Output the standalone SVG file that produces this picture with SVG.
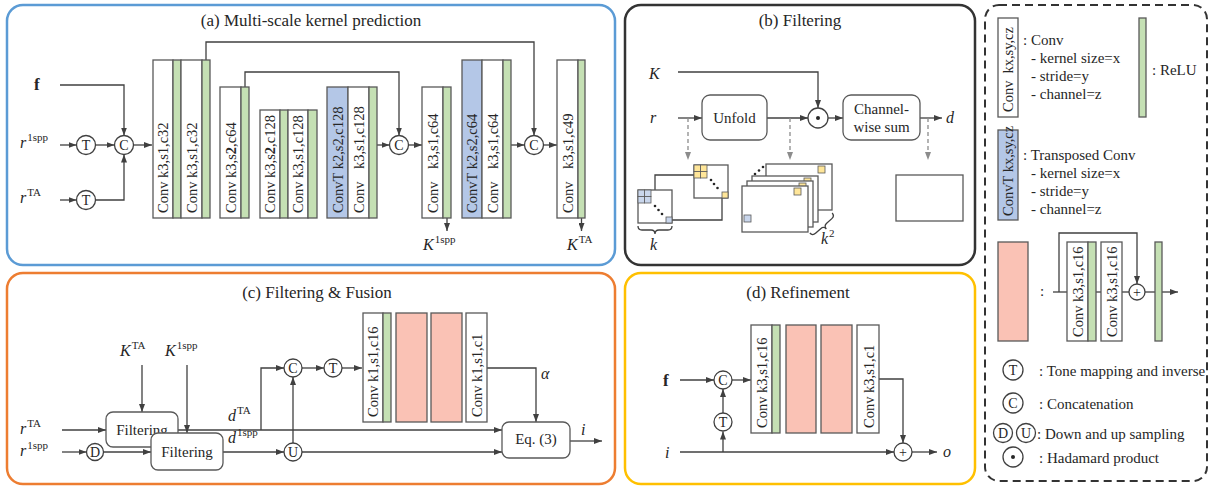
<svg xmlns="http://www.w3.org/2000/svg" width="1211" height="487" viewBox="0 0 1211 487">
<defs>
<marker id="ah" viewBox="0 0 8 6" refX="8" refY="3" markerWidth="8" markerHeight="6" markerUnits="userSpaceOnUse" orient="auto"><path d="M0,0L8,3L0,6z" fill="#404040"/></marker>
<marker id="ahg" viewBox="0 0 8 6" refX="8" refY="3" markerWidth="8" markerHeight="6" markerUnits="userSpaceOnUse" orient="auto"><path d="M0,0L8,3L0,6z" fill="#8c8c8c"/></marker>
<style>
.wb{fill:#fff;stroke:#595959;stroke-width:1.3}
.gr{fill:#C5E0B4;stroke:#595959;stroke-width:1.3}
.bl{fill:#B4C7E7;stroke:#595959;stroke-width:1.3}
.pk{fill:#FAC2B5;stroke:#595959;stroke-width:1.3}
.yc{fill:#FFE699;stroke:#595959;stroke-width:0.8}
.bc{fill:#C9D6EC;stroke:#595959;stroke-width:0.8}
.ln{fill:none;stroke:#404040;stroke-width:1.3}
.la{fill:none;stroke:#404040;stroke-width:1.3;marker-end:url(#ah)}
.dg{fill:none;stroke:#8c8c8c;stroke-width:1.3;stroke-dasharray:4,3;marker-end:url(#ahg)}
.ci{fill:#fff;stroke:#404040;stroke-width:1.3}
.tl{font-family:"Liberation Serif","Times New Roman",serif;font-size:15px;fill:#262626}
.ttl{font-family:"Liberation Serif","Times New Roman",serif;font-size:17px;fill:#262626;text-anchor:middle}
.cl{font-family:"Liberation Serif","Times New Roman",serif;font-size:14px;fill:#262626;text-anchor:middle}
.m{font-family:"Liberation Serif","Times New Roman",serif;font-size:16px;font-style:italic;fill:#262626}
.sp{font-style:normal;font-size:11px}
.bf{font-family:"Liberation Serif","Times New Roman",serif;font-size:17px;font-weight:bold;fill:#262626}
.rot{font-family:"Liberation Serif","Times New Roman",serif;font-size:14.5px;fill:#262626}
</style>
</defs>

<!-- panel borders -->
<g id="panel-a"><rect x="7" y="5" width="608" height="260" rx="16" fill="none" stroke="#5B9BD5" stroke-width="2.5"/><text class="ttl" x="311" y="26">(a) Multi-scale kernel prediction</text></g>
<g id="panel-b"><rect x="625" y="5" width="350" height="260" rx="16" fill="none" stroke="#333" stroke-width="2.5"/><text class="ttl" x="800" y="26">(b) Filtering</text></g>
<g id="panel-c"><rect x="7" y="273" width="608" height="211" rx="16" fill="none" stroke="#ED7D31" stroke-width="2.5"/><text class="ttl" x="317" y="298">(c) Filtering &amp; Fusion</text></g>
<g id="panel-d"><rect x="625" y="273" width="350" height="211" rx="16" fill="none" stroke="#FFC000" stroke-width="2.5"/><text class="ttl" x="798" y="298">(d) Refinement</text></g>
<g id="legend"><rect x="985" y="5" width="222" height="476" rx="14" fill="none" stroke="#333" stroke-width="2" stroke-dasharray="8,5"/></g>

<!-- connectors -->
<g id="connectors">
<!-- (a) -->
<path class="la" d="M60,85H124V135.5"/>
<path class="la" d="M60,145H76.5"/>
<path class="la" d="M95.5,145H114.5"/>
<path class="la" d="M60,200H76.5"/>
<path class="la" d="M95.5,200H124V154.5"/>
<path class="la" d="M133.5,145H152"/>
<path class="la" d="M206,60V42H534V135.5"/>
<path class="la" d="M245,87V72H399V135.5"/>
<path class="la" d="M377,145H389.5"/>
<path class="la" d="M408.5,145H422"/>
<path class="la" d="M447,218V231"/>
<path class="la" d="M511,145H524.5"/>
<path class="la" d="M543.5,145H557"/>
<path class="la" d="M581.5,218V231"/>
<!-- (b) -->
<path class="la" d="M678,72H818V108"/>
<path class="la" d="M678,118H702"/>
<path class="la" d="M767,118H808"/>
<path class="la" d="M828,118H843"/>
<path class="la" d="M920,118H942"/>
<path class="dg" d="M688,118V160"/>
<path class="dg" d="M790,118V160"/>
<path class="dg" d="M928,118V160"/>
<!-- (c) -->
<path class="la" d="M142,365V412"/>
<path class="la" d="M62,430H106"/>
<path class="la" d="M62,452H86.5"/>
<path class="la" d="M103.5,452H151"/>
<path class="la" d="M178,430H502"/>
<path class="la" d="M261,430V368H284"/>
<path class="la" d="M223,452H284"/>
<path class="la" d="M302,452H502"/>
<path class="la" d="M293,443V377"/>
<path class="la" d="M302,368H324"/>
<path class="la" d="M342,368H362"/>
<path class="la" d="M487,368H536V422"/>
<path class="la" d="M570,441H602"/>
<path class="la" d="M187,365V433"/>
<!-- (d) -->
<path class="la" d="M680,380H714"/>
<path class="la" d="M732,380H751"/>
<path class="la" d="M680,452H894"/>
<path class="la" d="M723,452V431.5"/>
<path class="la" d="M723,413V389"/>
<path class="la" d="M879,379H903V443"/>
<path class="la" d="M912,452H937"/>
<!-- legend res block -->
<path class="ln" d="M1053,292H1067"/>
<path class="la" d="M1059,292V233H1137V284"/>
<path class="ln" d="M1096,292H1101"/>
<path class="ln" d="M1122,292H1129"/>
<path class="ln" d="M1145,292H1155"/>
<path class="la" d="M1162,292H1178"/>
</g>

<!-- (a) labels -->
<g id="a-inputs">
<text class="bf" x="34" y="90">f</text>
<text class="m" x="20" y="148">r<tspan class="sp" dx="1" dy="-7">1spp</tspan></text>
<text class="m" x="20" y="203">r<tspan class="sp" dx="1" dy="-7">TA</tspan></text>
<text class="m" x="423" y="250">K<tspan class="sp" dx="1" dy="-7">1spp</tspan></text>
<text class="m" x="567" y="250">K<tspan class="sp" dx="1" dy="-7">TA</tspan></text>
</g>
<g id="a-circles">
<circle class="ci" cx="86" cy="145" r="9.5"/><text class="cl" x="86" y="150">T</text>
<circle class="ci" cx="86" cy="200" r="9.5"/><text class="cl" x="86" y="205">T</text>
<circle class="ci" cx="124" cy="145" r="9.5"/><text class="cl" x="124" y="150">C</text>
<circle class="ci" cx="399" cy="145" r="9.5"/><text class="cl" x="399" y="150">C</text>
<circle class="ci" cx="534" cy="145" r="9.5"/><text class="cl" x="534" y="150">C</text>
</g>
<g id="a-block1">
<rect class="wb" x="153" y="60" width="20" height="158"/><rect class="gr" x="173" y="60" width="8" height="158"/>
<rect class="wb" x="181" y="60" width="21" height="158"/><rect class="gr" x="202" y="60" width="8" height="158"/>
<text class="rot" transform="translate(168,213) rotate(-90)">Conv k3,s1,c32</text>
<text class="rot" transform="translate(197,213) rotate(-90)">Conv k3,s1,c32</text>
</g>
<g id="a-block2">
<rect class="wb" x="220" y="87" width="21" height="131"/><rect class="gr" x="241" y="87" width="8" height="131"/>
<text class="rot" transform="translate(236,213) rotate(-90)">Conv k3,s<tspan font-weight="bold">2</tspan>,c64</text>
</g>
<g id="a-block3">
<rect class="wb" x="260" y="110" width="20" height="108"/><rect class="gr" x="280" y="110" width="8" height="108"/>
<rect class="wb" x="288" y="110" width="20" height="108"/><rect class="gr" x="308" y="110" width="9" height="108"/>
<text class="rot" transform="translate(275,213) rotate(-90)">Conv k3,s<tspan font-weight="bold">2</tspan>,c128</text>
<text class="rot" transform="translate(303,213) rotate(-90)">Conv k3,s1,c128</text>
</g>
<g id="a-block4">
<rect class="bl" x="327" y="87" width="21" height="131"/><rect class="wb" x="348" y="87" width="21" height="131"/><rect class="gr" x="369" y="87" width="8" height="131"/>
<text class="rot" transform="translate(343,213) rotate(-90)">ConvT k2,s2,c128</text>
<text class="rot" transform="translate(364,213) rotate(-90)">Conv<tspan x="44">k3,s1,c128</tspan></text>
</g>
<g id="a-block5">
<rect class="wb" x="422" y="87" width="21" height="131"/><rect class="gr" x="443" y="87" width="8" height="131"/>
<text class="rot" transform="translate(438,213) rotate(-90)">Conv<tspan x="44">k3,s1,c64</tspan></text>
</g>
<g id="a-block6">
<rect class="bl" x="462" y="60" width="20" height="158"/><rect class="wb" x="482" y="60" width="21" height="158"/><rect class="gr" x="503" y="60" width="8" height="158"/>
<text class="rot" transform="translate(477,213) rotate(-90)">ConvT k2,s2,c64</text>
<text class="rot" transform="translate(498,213) rotate(-90)">Conv<tspan x="44">k3,s1,c64</tspan></text>
</g>
<g id="a-block7">
<rect class="wb" x="557" y="60" width="21" height="158"/><rect class="gr" x="578" y="60" width="7" height="158"/>
<text class="rot" transform="translate(573,213) rotate(-90)">Conv<tspan x="44">k3,s1,c49</tspan></text>
</g>

<!-- (b) -->
<g id="b-labels">
<text class="m" x="649" y="79">K</text>
<text class="m" x="650" y="123">r</text>
<text class="m" x="946" y="123">d</text>
</g>
<g id="b-unfold"><rect class="wb" x="702" y="95" width="65" height="45" rx="8"/><text class="tl" x="734.5" y="123" text-anchor="middle">Unfold</text></g>
<g id="b-hadamard"><circle class="ci" cx="818" cy="118" r="10"/><circle cx="818" cy="118" r="2" fill="#262626"/></g>
<g id="b-sum"><rect class="wb" x="843" y="95" width="77" height="45" rx="8"/><text class="tl" x="881.5" y="114" text-anchor="middle">Channel-</text><text class="tl" x="881.5" y="132" text-anchor="middle">wise sum</text></g>
<g id="b-icon1">
<path class="ln" d="M655,190V175H694M672,220H722V198"/>
<rect class="wb" x="694" y="165" width="34" height="33"/>
<rect class="yc" x="694" y="165" width="6.5" height="6.5"/><rect class="yc" x="700.5" y="165" width="6.5" height="6.5"/><rect class="yc" x="694" y="171.5" width="6.5" height="6.5"/><rect class="yc" x="700.5" y="171.5" width="6.5" height="6.5"/>
<rect class="yc" x="722" y="192" width="6" height="6"/>
<circle cx="711" cy="180" r="1.3" fill="#262626"/><circle cx="714" cy="184" r="1.3" fill="#262626"/><circle cx="717.5" cy="188" r="1.3" fill="#262626"/>
<rect class="wb" x="638" y="190" width="34" height="33"/>
<rect class="bc" x="638" y="190" width="6.5" height="6.5"/><rect class="bc" x="644.5" y="190" width="6.5" height="6.5"/><rect class="bc" x="638" y="196.5" width="6.5" height="6.5"/><rect class="bc" x="644.5" y="196.5" width="6.5" height="6.5"/>
<rect class="bc" x="666" y="217" width="6" height="6"/>
<circle cx="655" cy="206" r="1.3" fill="#262626"/><circle cx="658.5" cy="210" r="1.3" fill="#262626"/><circle cx="662" cy="214" r="1.3" fill="#262626"/>
<path class="ln" d="M638,226q0,4 4,4H651q4,0 4,4q0,-4 4,-4H668q4,0 4,-4" stroke-width="1"/>
<text class="m" x="650" y="250">k</text>
</g>
<g id="b-icon2">
<rect class="wb" x="766" y="164" width="66" height="46"/><rect class="yc" x="818" y="166" width="7" height="7"/>
<circle cx="755" cy="174" r="1.3" fill="#262626"/><circle cx="759" cy="170.5" r="1.3" fill="#262626"/><circle cx="763" cy="167" r="1.3" fill="#262626"/>
<rect class="wb" x="752" y="176" width="66" height="46"/><rect class="yc" x="804" y="178" width="7" height="7"/>
<rect class="wb" x="747" y="181" width="66" height="46"/><rect class="yc" x="799" y="183" width="7" height="7"/>
<rect class="wb" x="742" y="186" width="66" height="46"/><rect class="yc" x="794" y="188" width="7" height="7"/>
<rect class="bc" x="744" y="215" width="7" height="7"/>
<path class="ln" stroke-width="1" transform="translate(821,223) rotate(-42)" d="M-15,0q0,4 4,4H-4q4,0 4,4q0,-4 4,-4H11q4,0 4,-4"/>
<text class="m" x="821" y="244">k<tspan class="sp" dx="1" dy="-7">2</tspan></text>
</g>
<g id="b-icon3"><rect class="wb" x="896" y="175" width="67" height="46"/></g>

<!-- (c) -->
<g id="c-labels">
<text class="m" x="120" y="356">K<tspan class="sp" dx="1" dy="-7">TA</tspan></text>
<text class="m" x="165" y="356">K<tspan class="sp" dx="1" dy="-7">1spp</tspan></text>
<text class="m" x="20" y="434">r<tspan class="sp" dx="1" dy="-7">TA</tspan></text>
<text class="m" x="20" y="456">r<tspan class="sp" dx="1" dy="-7">1spp</tspan></text>
<text class="m" x="228" y="421">d<tspan class="sp" dx="1" dy="-7">TA</tspan></text>
<text class="m" x="228" y="443">d<tspan class="sp" dx="1" dy="-7">1spp</tspan></text>
<text class="m" x="541" y="379">α</text>
<text class="m" x="581" y="435">i</text>
</g>
<g id="c-filter1"><rect class="wb" x="106" y="412" width="72" height="35" rx="7"/><text class="tl" x="142" y="435" text-anchor="middle">Filtering</text></g>
<g id="c-filter2"><rect class="wb" x="151" y="433" width="72" height="37" rx="7"/><text class="tl" x="187" y="457" text-anchor="middle">Filtering</text></g>
<g id="c-circles">
<circle class="ci" cx="95" cy="452" r="8.5"/><text class="cl" x="95" y="457">D</text>
<circle class="ci" cx="293" cy="368" r="9"/><text class="cl" x="293" y="373">C</text>
<circle class="ci" cx="293" cy="452" r="9"/><text class="cl" x="293" y="457">U</text>
<circle class="ci" cx="333" cy="368" r="9"/><text class="cl" x="333" y="373">T</text>
</g>
<g id="c-blocks">
<rect class="wb" x="363" y="313" width="20" height="109"/><rect class="gr" x="383" y="313" width="8" height="109"/>
<rect class="pk" x="396" y="313" width="31" height="109"/><rect class="pk" x="431" y="313" width="31" height="109"/>
<rect class="wb" x="466" y="313" width="21" height="109"/>
<text class="rot" transform="translate(378,417) rotate(-90)">Conv k1,s1,c16</text>
<text class="rot" transform="translate(482,417) rotate(-90)">Conv k1,s1,c1</text>
</g>
<g id="c-eq"><rect class="wb" x="502" y="422" width="68" height="36" rx="7"/><text class="tl" x="536" y="444" text-anchor="middle">Eq. (3)</text></g>

<!-- (d) -->
<g id="d-labels">
<text class="bf" x="663" y="386">f</text>
<text class="m" x="665" y="458">i</text>
<text class="m" x="943" y="457">o</text>
</g>
<g id="d-circles">
<circle class="ci" cx="723" cy="380" r="9"/><text class="cl" x="723" y="385">C</text>
<circle class="ci" cx="723" cy="422" r="9"/><text class="cl" x="723" y="427">T</text>
<circle class="ci" cx="903" cy="452" r="9"/><text class="cl" x="903" y="457">+</text>
</g>
<g id="d-blocks">
<rect class="wb" x="751" y="325" width="21" height="108"/><rect class="gr" x="772" y="325" width="8" height="108"/>
<rect class="pk" x="786" y="325" width="30" height="108"/><rect class="pk" x="821" y="325" width="31" height="108"/>
<rect class="wb" x="857" y="325" width="22" height="108"/>
<text class="rot" transform="translate(767,428) rotate(-90)">Conv k3,s1,c16</text>
<text class="rot" transform="translate(874,428) rotate(-90)">Conv k3,s1,c1</text>
</g>

<!-- legend items -->
<g id="lg-conv">
<rect class="wb" x="998" y="18" width="20" height="99"/>
<text class="rot" transform="translate(1013,112) rotate(-90)">Conv<tspan dx="7">kx,sy,cz</tspan></text>
<text class="tl" x="1023" y="45">: Conv</text>
<text class="tl" x="1031" y="63">- kernel size=x</text>
<text class="tl" x="1031" y="81">- stride=y</text>
<text class="tl" x="1031" y="99">- channel=z</text>
</g>
<g id="lg-relu"><rect class="gr" x="1139" y="18" width="7" height="99"/><text class="tl" x="1152" y="75">: ReLU</text></g>
<g id="lg-convt">
<rect class="bl" x="998" y="130" width="20" height="90"/>
<text class="rot" transform="translate(1013,216) rotate(-90)">ConvT kx,sy,cz</text>
<text class="tl" x="1023" y="160">: Transposed Conv</text>
<text class="tl" x="1031" y="178">- kernel size=x</text>
<text class="tl" x="1031" y="196">- stride=y</text>
<text class="tl" x="1031" y="214">- channel=z</text>
</g>
<g id="lg-res">
<rect class="pk" x="998" y="242" width="30" height="99"/>
<text class="tl" x="1040" y="296">:</text>
<rect class="wb" x="1067" y="242" width="21" height="99"/><rect class="gr" x="1088" y="242" width="8" height="99"/>
<rect class="wb" x="1101" y="242" width="21" height="99"/>
<text class="rot" transform="translate(1083,337) rotate(-90)">Conv k3,s1,c16</text>
<text class="rot" transform="translate(1117,337) rotate(-90)">Conv k3,s1,c16</text>
<circle class="ci" cx="1137" cy="292" r="8"/><text class="cl" x="1137" y="297">+</text>
<rect class="gr" x="1155" y="242" width="7" height="99"/>
</g>
<g id="lg-ops">
<circle class="ci" cx="1013" cy="370" r="10"/><text class="cl" x="1013" y="375">T</text>
<text class="tl" x="1039" y="376">: Tone mapping and inverse</text>
<circle class="ci" cx="1013" cy="403" r="10"/><text class="cl" x="1013" y="408">C</text>
<text class="tl" x="1039" y="409">: Concatenation</text>
<circle class="ci" cx="1003" cy="433" r="9.5"/><text class="cl" x="1003" y="438">D</text>
<circle class="ci" cx="1026" cy="433" r="9.5"/><text class="cl" x="1026" y="438">U</text>
<text class="tl" x="1037" y="439">: Down and up sampling</text>
<circle class="ci" cx="1013" cy="457" r="10"/><circle cx="1013" cy="457" r="2" fill="#262626"/>
<text class="tl" x="1039" y="463">: Hadamard product</text>
</g>
</svg>
